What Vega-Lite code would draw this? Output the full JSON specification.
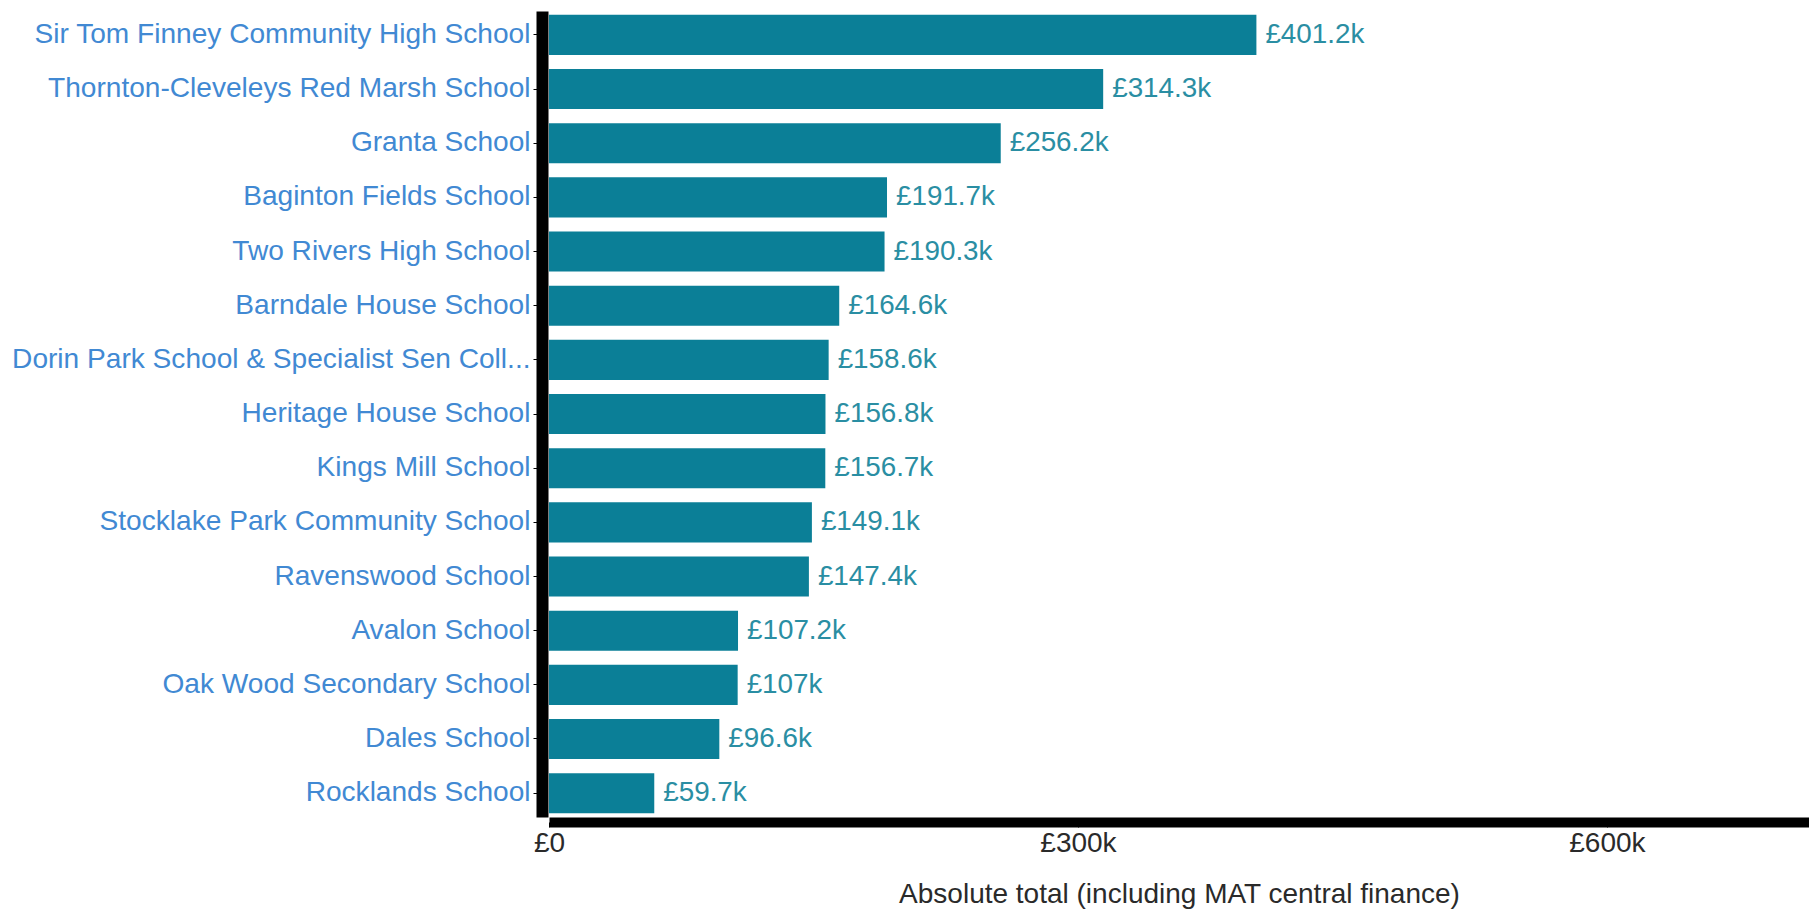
{
  "$schema": "https://vega.github.io/schema/vega-lite/v6.json",
  "autosize": {"type": "none"},
  "padding": {"left": 549, "top": 11, "right": 0, "bottom": 98},
  "width": 1260,
  "height": 806,
  "background": "white",
  "config": {
    "view": {"stroke": null},
    "font": "Liberation Sans"
  },
  "data": {
    "values": [
      {"school": "Sir Tom Finney Community High School", "total": 401200, "label": "£401.2k"},
      {"school": "Thornton-Cleveleys Red Marsh School", "total": 314300, "label": "£314.3k"},
      {"school": "Granta School", "total": 256200, "label": "£256.2k"},
      {"school": "Baginton Fields School", "total": 191700, "label": "£191.7k"},
      {"school": "Two Rivers High School", "total": 190300, "label": "£190.3k"},
      {"school": "Barndale House School", "total": 164600, "label": "£164.6k"},
      {"school": "Dorin Park School & Specialist Sen Coll...", "total": 158600, "label": "£158.6k"},
      {"school": "Heritage House School", "total": 156800, "label": "£156.8k"},
      {"school": "Kings Mill School", "total": 156700, "label": "£156.7k"},
      {"school": "Stocklake Park Community School", "total": 149100, "label": "£149.1k"},
      {"school": "Ravenswood School", "total": 147400, "label": "£147.4k"},
      {"school": "Avalon School", "total": 107200, "label": "£107.2k"},
      {"school": "Oak Wood Secondary School", "total": 107000, "label": "£107k"},
      {"school": "Dales School", "total": 96600, "label": "£96.6k"},
      {"school": "Rocklands School", "total": 59700, "label": "£59.7k"}
    ]
  },
  "encoding": {
    "y": {
      "field": "school",
      "type": "nominal",
      "sort": null,
      "scale": {"paddingInner": 0.26, "paddingOuter": 0.07},
      "axis": {
        "title": null,
        "domainColor": "black",
        "domainWidth": 12,
        "offset": 7,
        "ticks": true,
        "tickColor": "black",
        "tickSize": 9,
        "tickWidth": 1,
        "labelPadding": 3,
        "labelFontSize": 28.1,
        "labelColor": "#4189d3",
        "labelLimit": 0,
        "labelFont": "Liberation Sans"
      }
    },
    "x": {
      "field": "total",
      "type": "quantitative",
      "scale": {"domain": [0, 714600], "nice": false, "zero": true},
      "axis": {
        "title": "Absolute total (including MAT central finance)",
        "titleFontSize": 28,
        "titleFontWeight": "normal",
        "titleColor": "#2a2a2a",
        "titleFont": "Liberation Sans",
        "titlePadding": 23,
        "values": [0, 300000, 600000],
        "labelExpr": "datum.value == 0 ? '£0' : '£' + (datum.value / 1000) + 'k'",
        "labelFlush": false,
        "labelFontSize": 28,
        "labelColor": "#2a2a2a",
        "labelFont": "Liberation Sans",
        "labelPadding": 2,
        "domainColor": "black",
        "domainWidth": 10,
        "offset": 5,
        "tickColor": "black",
        "tickSize": 5,
        "tickWidth": 1,
        "grid": false
      }
    }
  },
  "layer": [
    {
      "mark": {"type": "bar", "color": "#0b7f97"}
    },
    {
      "mark": {"type": "text", "align": "left", "baseline": "middle", "dx": 9, "fontSize": 27.8, "color": "#2a8ea3", "font": "Liberation Sans"},
      "encoding": {"text": {"field": "label"}}
    }
  ]
}
